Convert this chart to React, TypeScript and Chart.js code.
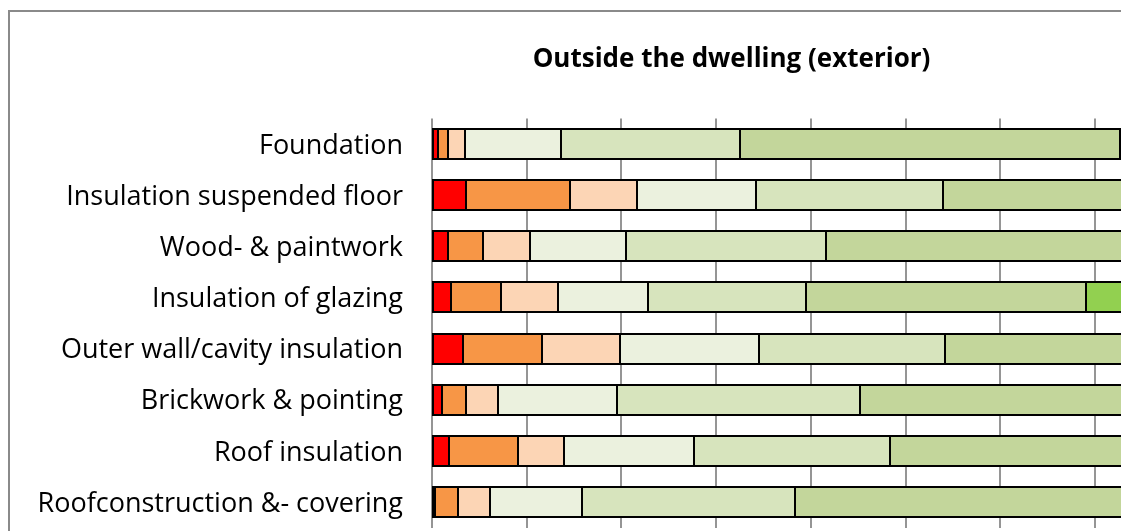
import React, { useEffect, useRef } from "react";
import { Chart, registerables } from "chart.js";

Chart.register(...registerables);

// Building elements, top to bottom
const categories = [
  "Foundation",
  "Insulation suspended floor",
  "Wood- & paintwork",
  "Insulation of glazing",
  "Outer wall/cavity insulation",
  "Brickwork & pointing",
  "Roof insulation",
  "Roofconstruction &- covering",
];

// Share of dwellings (%) per condition score, worst (1) to best (7)
const score1 = [0.6, 3.6, 1.7, 2.0, 3.3, 1.1, 1.8, 0.3];
const score2 = [1.1, 11.0, 3.7, 5.3, 8.3, 2.5, 7.3, 2.4];
const score3 = [1.8, 7.1, 4.9, 6.0, 8.3, 3.4, 4.8, 3.4];
const score4 = [10.1, 12.5, 10.2, 9.5, 14.6, 12.5, 13.8, 9.7];
const score5 = [18.9, 19.8, 21.1, 16.7, 19.7, 25.7, 20.7, 22.5];
const score6 = [40.1, 46.0, 58.4, 29.6, 45.8, 54.8, 51.6, 61.7];
const score7 = [27.4, 0, 0, 30.9, 0, 0, 0, 0];

const seriesNames = ["Score 1", "Score 2", "Score 3", "Score 4", "Score 5", "Score 6", "Score 7"];
const seriesValues = [score1, score2, score3, score4, score5, score6, score7];
const seriesColors = ["#FF0000", "#F79646", "#FCD5B5", "#EBF1DE", "#D7E4BD", "#C3D69B", "#92D050"];

const percentTicks = [0, 10, 20, 30, 40, 50, 60, 70, 80, 90, 100];

const chartTitle = "Outside the dwelling (exterior)";

const framePlugin = {
  id: "outerFrame",
  beforeDraw(chart: any) {
    const ctx = chart.ctx;
    ctx.save();
    ctx.strokeStyle = "#8a8a8a";
    ctx.lineWidth = 2;
    ctx.strokeRect(9, 11, 1442, 640);
    ctx.restore();
  },
};

// Outlines every stacked segment with a 2px black line centred on its edges
const segmentOutlinePlugin = {
  id: "segmentOutline",
  afterDatasetsDraw(chart: any) {
    const ctx = chart.ctx;
    ctx.save();
    ctx.strokeStyle = "#000000";
    ctx.lineWidth = 2;
    chart.data.datasets.forEach((_ds: any, di: number) => {
      const meta = chart.getDatasetMeta(di);
      meta.data.forEach((bar: any) => {
        const { x, y, base, height } = bar.getProps(["x", "y", "base", "height"], true);
        if (Math.abs(x - base) < 0.5) return;
        const left = Math.round(Math.min(x, base));
        const right = Math.round(Math.max(x, base));
        const top = Math.round(y - height / 2);
        const bottom = Math.round(y + height / 2);
        ctx.strokeRect(left, top, right - left, bottom - top);
      });
    });
    ctx.restore();
  },
};

const titlePlugin = {
  id: "boldTitle",
  afterDraw(chart: any) {
    const ctx = chart.ctx;
    ctx.save();
    ctx.font = 'bold 26px "Open Sans"';
    ctx.fillStyle = "#000000";
    ctx.textAlign = "center";
    ctx.textBaseline = "alphabetic";
    ctx.fillText(chartTitle, 731.5, 67);
    ctx.restore();
  },
};

export default function App() {
  const canvasRef = useRef<HTMLCanvasElement | null>(null);

  useEffect(() => {
    if (!canvasRef.current) return;
    const chart = new Chart(canvasRef.current, {
      type: "bar",
      data: {
        labels: categories,
        datasets: seriesNames.map((name, i) => ({
          label: name,
          data: seriesValues[i],
          backgroundColor: seriesColors[i],
          borderWidth: 0,
          inflateAmount: 0,
          barThickness: 30,
        })),
      },
      options: {
        indexAxis: "y",
        responsive: false,
        animation: false,
        layout: { padding: { left: 0, right: 84, top: 118.5, bottom: 72.5 } },
        plugins: {
          legend: { display: false },
          title: { display: false },
          tooltip: { enabled: false },
        },
        scales: {
          x: {
            stacked: true,
            min: 0,
            max: 100,
            afterBuildTicks(scale: any) {
              scale.ticks = percentTicks.map((v) => ({ value: v }));
            },
            grid: { color: "#959595", lineWidth: 2, drawTicks: false },
            border: { display: false },
            ticks: { display: false },
          },
          y: {
            stacked: true,
            grid: { display: false, drawTicks: false },
            border: { display: false },
            afterFit(scale: any) {
              scale.width = 432;
            },
            ticks: {
              color: "#000000",
              padding: 29,
              labelOffset: 2,
              font: { family: "Open Sans", size: 27 },
            },
          },
        },
      },
      plugins: [framePlugin, segmentOutlinePlugin, titlePlugin],
    });
    return () => chart.destroy();
  }, []);

  return (
    <div
      style={{
        position: "fixed",
        left: 0,
        top: 0,
        width: 1121,
        height: 531,
        overflow: "hidden",
        background: "#ffffff",
      }}
    >
      <canvas ref={canvasRef} width={1463} height={600} style={{ display: "block" }} />
    </div>
  );
}
